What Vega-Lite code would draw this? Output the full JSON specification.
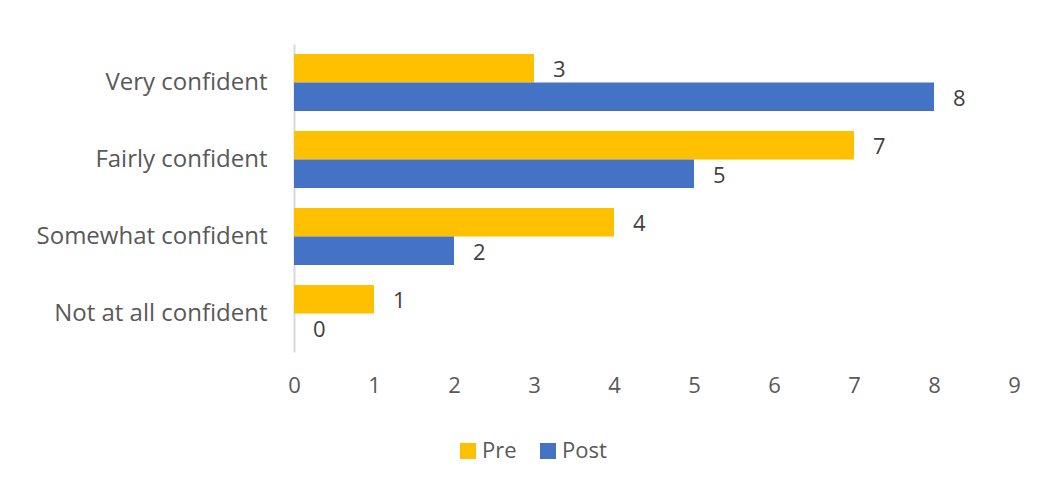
{
  "$schema": "https://vega.github.io/schema/vega-lite/v6.json",
  "autosize": "none",
  "width": 720,
  "height": 308,
  "padding": {"left": 294, "top": 44, "right": 33, "bottom": 141},
  "background": "white",
  "config": {
    "view": {"stroke": null},
    "font": "Open Sans",
    "axis": {"labelFont": "Open Sans", "labelColor": "#595959"}
  },
  "data": {
    "values": [
      {"category": "Very confident", "series": "Pre", "value": 3},
      {"category": "Very confident", "series": "Post", "value": 8},
      {"category": "Fairly confident", "series": "Pre", "value": 7},
      {"category": "Fairly confident", "series": "Post", "value": 5},
      {"category": "Somewhat confident", "series": "Pre", "value": 4},
      {"category": "Somewhat confident", "series": "Post", "value": 2},
      {"category": "Not at all confident", "series": "Pre", "value": 1},
      {"category": "Not at all confident", "series": "Post", "value": 0}
    ]
  },
  "encoding": {
    "y": {
      "field": "category",
      "type": "nominal",
      "sort": ["Very confident", "Fairly confident", "Somewhat confident", "Not at all confident"],
      "scale": {"paddingInner": 0.26, "paddingOuter": 0.13},
      "axis": {
        "title": null,
        "ticks": false,
        "domainColor": "#d9d9d9",
        "domainWidth": 2,
        "labelFontSize": 24,
        "labelLimit": 400,
        "labelPadding": 27,
        "labelColor": "#595959"
      }
    },
    "yOffset": {
      "field": "series",
      "type": "nominal",
      "sort": ["Pre", "Post"]
    },
    "x": {
      "field": "value",
      "type": "quantitative",
      "scale": {"domain": [0, 9], "nice": false},
      "axis": {
        "title": null,
        "grid": false,
        "domain": false,
        "ticks": false,
        "values": [0, 1, 2, 3, 4, 5, 6, 7, 8, 9],
        "labelOverlap": false,
        "labelFlush": false,
        "labelFontSize": 22,
        "labelPadding": 23,
        "labelColor": "#595959"
      }
    }
  },
  "layer": [
    {
      "mark": {"type": "bar"},
      "encoding": {
        "color": {
          "field": "series",
          "type": "nominal",
          "sort": ["Pre", "Post"],
          "scale": {"domain": ["Pre", "Post"], "range": ["#FFC000", "#4472C4"]},
          "legend": {
            "title": null,
            "orient": "none",
            "direction": "horizontal",
            "legendX": 163,
            "legendY": 396,
            "symbolType": "square",
            "symbolSize": 256,
            "symbolStrokeWidth": 0,
            "labelFontSize": 22,
            "labelColor": "#595959",
            "labelOffset": 3,
            "columnPadding": 20
          }
        }
      }
    },
    {
      "mark": {"type": "text", "align": "left", "baseline": "middle", "dx": 19, "dy": 2, "fontSize": 22, "color": "#404040"},
      "encoding": {"text": {"field": "value", "type": "quantitative"}}
    }
  ]
}
